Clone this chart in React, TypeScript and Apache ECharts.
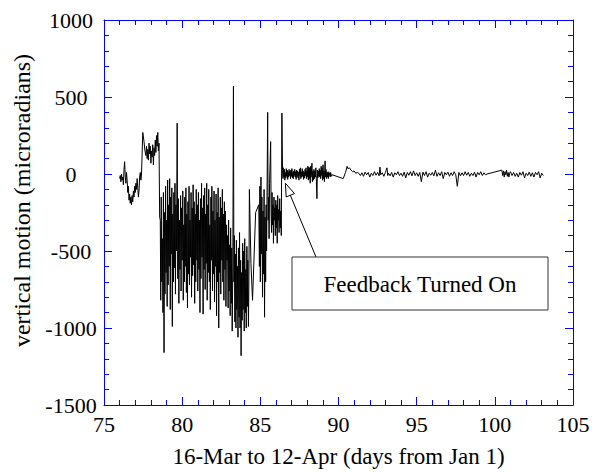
import React, { useEffect, useRef } from "react";
import * as echarts from "echarts";

// [day of year, vertical motion (microradians)]
const phaseA: number[][] = [
  [76.0, -30], [76.04, -10], [76.08, -50], [76.12, 0], [76.16, -40], [76.2, -20], [76.24, -70], [76.28, 30],
  [76.32, 80], [76.36, -20], [76.4, -60], [76.44, 10], [76.48, -40], [76.52, -120], [76.56, -80], [76.6, -170],
  [76.64, -130], [76.68, -190], [76.72, -150], [76.76, -200], [76.8, -140], [76.84, -180], [76.88, -110],
  [76.92, -150], [76.96, -80], [77.0, -120], [77.04, -60], [77.08, -100], [77.12, -30], [77.16, -90],
  [77.2, -150], [77.24, -110], [77.28, -20], [77.32, 10], [77.36, -40], [77.4, 0],
  [77.48, 270], [77.56, 210], [77.62, 150], [77.68, 120], [77.72, 180], [77.76, 100], [77.8, 160], [77.84, 90],
  [77.88, 200], [77.92, 130], [77.96, 180], [78.0, 70], [78.04, 150], [78.08, 110], [78.12, 190], [78.16, 60],
  [78.2, 170], [78.24, 120], [78.28, 220], [78.32, 140], [78.36, 250], [78.4, 180], [78.44, 270], [78.48, 150],
  [78.52, 200], [78.56, -280],
];

const phaseB: number[][] = [
  [78.6, -300], [78.63, -820], [78.66, -150], [78.7, -700], [78.73, -420], [78.77, -900], [78.8, -120],
  [78.84, -1160], [78.87, -250], [78.9, -780], [78.94, -80], [78.97, -640], [79.0, -300], [79.04, -860],
  [79.07, -40], [79.1, -720], [79.14, -200], [79.17, -600], [79.2, -30], [79.24, -880], [79.27, -150],
  [79.3, -520], [79.34, -90], [79.37, -990], [79.4, -260], [79.44, -700], [79.47, -120], [79.5, -610],
  [79.54, -60], [79.57, -780], [79.6, -200], [79.64, -500], [79.68, 330], [79.72, -680], [79.75, -160],
  [79.79, -840], [79.82, -300], [79.86, -620], [79.9, -140], [79.93, -760], [79.96, -220], [80.0, -560],
  [80.04, -110], [80.07, -820], [80.1, -330], [80.14, -700], [80.17, -150], [80.2, -600], [80.24, -90],
  [80.27, -770], [80.3, -260], [80.34, -870], [80.37, -180], [80.4, -650], [80.44, -80], [80.47, -720],
  [80.5, -300], [80.54, -540], [80.57, -120], [80.6, -800], [80.64, -220], [80.67, -660], [80.7, -70],
  [80.74, -590], [80.77, -180], [80.8, -840], [80.84, -260], [80.87, -700], [80.9, -100], [80.94, -560],
  [80.97, -200], [81.0, -760], [81.04, -120], [81.07, -620], [81.1, -300], [81.14, -900], [81.17, -160],
  [81.2, -680], [81.24, -60], [81.27, -540], [81.3, -220], [81.34, -910], [81.37, -140], [81.4, -620],
  [81.44, -90], [81.47, -750], [81.5, -260], [81.54, -580], [81.57, -60], [81.6, -820], [81.64, -200],
  [81.67, -640], [81.7, -100], [81.74, -700], [81.77, -330], [81.8, -880], [81.84, -150], [81.87, -560],
  [81.9, -80], [81.94, -760], [81.97, -240], [82.0, -650], [82.04, -110], [82.07, -830], [82.1, -300],
  [82.14, -600], [82.17, -130], [82.2, -920], [82.24, -250], [82.27, -700], [82.3, -90], [82.34, -1000],
  [82.37, -280], [82.4, -640], [82.44, -150], [82.47, -780], [82.5, -220], [82.54, -560], [82.57, -100],
  [82.6, -700], [82.64, -260], [82.67, -820], [82.7, -180], [82.74, -620], [82.77, -240], [82.8, -860],
  [82.84, -330], [82.87, -560], [82.9, -400], [82.94, -870], [82.97, -300], [83.0, -760], [83.04, -460],
  [83.07, -920], [83.1, -350], [83.14, -840], [83.17, -480], [83.2, -1020], [83.24, -600], [83.28, 570],
  [83.31, -700], [83.34, -400], [83.37, -960], [83.4, -520], [83.44, -1000], [83.47, -430], [83.5, -880],
  [83.54, -600], [83.57, -1060], [83.6, -480], [83.64, -930], [83.67, -380], [83.7, -1000], [83.74, -560],
  [83.77, -1180], [83.8, -640], [83.84, -950], [83.87, -450], [83.9, -880], [83.94, -500], [83.97, -1020],
  [84.0, -420], [84.04, -900], [84.07, -620], [84.1, -1000], [84.14, -470], [84.17, -860], [84.2, -560],
  [84.24, -990], [84.27, -700], [84.3, -100], [84.4, -580], [84.5, -820], [84.7, -250], [84.9, -200],
  [84.94, -600], [84.97, -80], [85.0, -700], [85.04, -20], [85.07, -520], [85.1, -150], [85.14, -800],
  [85.17, -240], [85.2, -650], [85.24, -100], [85.27, -930], [85.3, -280], [85.34, -700], [85.37, -200],
  [85.4, -500], [85.47, 400], [85.5, -300], [85.53, -150], [85.56, -420], [85.59, -60], [85.66, 210],
  [85.69, -260], [85.72, -380], [85.75, -120], [85.78, -330], [85.81, -200], [85.84, -450], [85.87, -150],
  [85.9, -300], [85.93, -220], [85.96, -400], [85.99, -170], [86.02, -350], [86.05, -200], [86.08, -450],
  [86.11, -140], [86.14, -300], [86.17, -230], [86.2, -380], [86.24, -160], [86.27, -350], [86.3, -240],
  [86.34, -400], [86.38, 396],
];

const phaseC: number[][] = [
  [86.42, 20], [86.45, -30], [86.48, 40], [86.51, -20], [86.54, 30], [86.57, -40], [86.6, 10], [86.63, -25],
  [86.66, 35], [86.69, -15], [86.72, 25], [86.75, -35], [86.78, 15], [86.81, -20], [86.84, 30], [86.87, -10],
  [86.9, 20], [86.93, -30], [86.96, 25], [86.99, -15], [87.02, 35], [87.05, -25], [87.08, 10], [87.11, -30],
  [87.14, 20], [87.17, -10], [87.2, 30], [87.23, -20], [87.26, 15], [87.29, -35], [87.32, 25], [87.35, -15],
  [87.38, 20], [87.41, -25], [87.44, 10], [87.47, -40], [87.5, 30], [87.53, -10], [87.56, 40], [87.59, -30],
  [87.62, 15], [87.65, -20], [87.68, 35], [87.71, -15], [87.74, 20], [87.77, -35], [87.8, 10], [87.83, -25],
  [87.86, 30], [87.89, -10], [87.92, 40], [87.95, -30], [87.98, 20], [88.01, -20], [88.04, 50], [88.07, -40],
  [88.1, 45], [88.13, -30], [88.16, 40], [88.19, -60], [88.22, 50], [88.25, -20], [88.3, 70], [88.33, -50],
  [88.36, 20], [88.4, -40], [88.43, 30], [88.46, -30], [88.49, 20], [88.52, -20], [88.55, 40], [88.58, -30],
  [88.62, -160], [88.65, 25], [88.68, -25], [88.71, 20], [88.74, -15], [88.77, 35], [88.8, -20], [88.83, 25],
  [88.86, -30], [88.89, 50], [88.92, -10], [88.95, 40], [88.98, -40], [89.01, 60], [89.04, -30], [89.07, 20],
  [89.1, -50], [89.14, 85], [89.17, -20], [89.2, 30], [89.23, -30], [89.26, 15], [89.29, -20], [89.32, 10],
  [89.35, -30], [89.38, 15], [89.41, -10], [89.44, 5], [89.47, -20], [89.5, 10], [89.55, -15], [89.6, -5],
  [90.3, -30], [90.45, 10], [90.55, 50], [90.6, 35], [90.7, 40], [90.8, 25], [90.9, 15], [91.0, 20], [91.1, 5],
  [91.2, 10],
];

const phaseD: number[][] = [
  [91.3, 5], [91.4, -10], [91.5, 8], [91.6, -15], [91.7, 12], [91.8, -5], [91.9, 10], [92.0, -20], [92.1, 5],
  [92.2, -10], [92.3, 15], [92.4, -8], [92.5, 10], [92.6, -12], [92.65, 45], [92.7, -5], [92.8, 8],
  [92.9, -15], [93.0, 10], [93.1, 40], [93.15, -10], [93.2, 5], [93.3, -12], [93.4, 10], [93.5, -20],
  [93.6, 8], [93.7, -5], [93.8, 15], [93.9, -10], [94.0, 5], [94.1, -15], [94.2, 12], [94.3, -25], [94.4, 10],
  [94.5, -8], [94.6, 15], [94.7, -12], [94.8, 20], [94.9, -10], [95.0, 8], [95.1, -15], [95.2, 10],
  [95.3, -50], [95.4, 12], [95.5, -10], [95.6, 15], [95.7, -20], [95.8, 5], [95.9, -8], [96.0, 10],
  [96.1, -12], [96.2, 25], [96.3, -15], [96.4, 8], [96.5, -10], [96.6, 15], [96.7, -30], [96.8, 10],
  [96.9, -5], [97.0, 12], [97.1, -15], [97.2, 8], [97.3, -10], [97.4, 15], [97.5, -5], [97.6, -80],
  [97.7, 10], [97.8, -12], [97.9, 8], [98.0, -10], [98.1, 15], [98.2, -8], [98.3, 10], [98.4, -15],
  [98.5, 5], [98.6, -10], [98.7, 12], [98.8, -20], [98.9, 10], [99.0, -5], [99.1, 15], [99.2, -10],
  [99.3, 8], [99.4, -5], [99.5, 0],
];

const phaseE: number[][] = [
  [100.45, 25], [100.5, -10], [100.55, 20], [100.6, -20], [100.65, 15], [100.7, -5], [100.75, 25],
  [100.8, -15], [100.85, 10], [100.9, -20], [100.95, 5], [101.0, 15], [101.1, -10], [101.2, 10],
  [101.3, -15], [101.4, 5], [101.5, -20], [101.6, 10], [101.7, -8], [101.8, 15], [101.9, -25], [102.0, 5],
  [102.1, -10], [102.2, 12], [102.3, -15], [102.4, 8], [102.5, -20], [102.6, 10], [102.7, -5], [102.8, 15],
  [102.9, -25], [103.0, 5], [103.1, -10],
];

const annotationText = "Feedback Turned On";
const arrowTip = [86.6, -60];
const xTitle = "16-Mar to 12-Apr (days from Jan 1)";
const yTitle = "vertical motion (microradians)";

const FONT = "'Liberation Serif', 'Times New Roman', serif";
const AXIS_BLUE = "#0000ff";

export default function App() {
  const ref = useRef<HTMLDivElement>(null);
  useEffect(() => {
    if (!ref.current) return;
    const chart = echarts.init(ref.current, undefined, { renderer: "svg" });
    const data = [...phaseA, ...phaseB, ...phaseC, ...phaseD, ...phaseE];
    const tickCommon = {
      axisLine: { show: true, onZero: false, lineStyle: { color: AXIS_BLUE, width: 1 } },
      axisTick: { show: true, inside: true, length: 8, lineStyle: { color: AXIS_BLUE } },
      minorTick: { show: true, splitNumber: 5, length: 5, lineStyle: { color: AXIS_BLUE } },
      splitLine: { show: false },
      minorSplitLine: { show: false },
    };
    const plain = (v: number) => String(v);
    const xBase = { type: "value", min: 75, max: 105, interval: 5, ...tickCommon };
    const yBase = { type: "value", min: -1500, max: 1000, interval: 500, ...tickCommon };
    chart.setOption({
      animation: false,
      backgroundColor: "#ffffff",
      grid: {
        left: 104,
        top: 20,
        right: 19,
        bottom: 67,
        containLabel: false,
        outerBoundsMode: "none",
      },
      xAxis: [
        {
          ...xBase,
          position: "bottom",
          axisLabel: { color: "#000", fontFamily: FONT, fontSize: 22, margin: 8, formatter: plain },
          name: xTitle,
          nameLocation: "middle",
          nameGap: 40,
          nameTextStyle: { color: "#000", fontFamily: FONT, fontSize: 23 },
        },
        { ...xBase, position: "top", axisLabel: { show: false } },
      ],
      yAxis: [
        {
          ...yBase,
          position: "left",
          axisLabel: {
            color: "#000",
            fontFamily: FONT,
            fontSize: 22,
            margin: 33,
            align: "center",
            formatter: plain,
          },
          name: yTitle,
          nameLocation: "middle",
          nameGap: 57,
          nameRotate: 90,
          nameTextStyle: {
            color: "#000",
            fontFamily: FONT,
            fontSize: 24,
            padding: [0, 0, 0, 24],
          },
        },
        { ...yBase, position: "right", axisLabel: { show: false } },
      ],
      series: [
        {
          type: "line",
          data,
          showSymbol: false,
          symbol: "none",
          lineStyle: { color: "#000", width: 1 },
          xAxisIndex: 0,
          yAxisIndex: 0,
        },
      ],
    });
    const tip = chart.convertToPixel({ gridIndex: 0 }, arrowTip) as number[];
    const tail = [316, 257];
    const dx = tail[0] - tip[0];
    const dy = tail[1] - tip[1];
    const len = Math.sqrt(dx * dx + dy * dy);
    const ux = dx / len;
    const uy = dy / len;
    const bx = tip[0] + ux * 13;
    const by = tip[1] + uy * 13;
    const nx = -uy;
    const ny = ux;
    chart.setOption({
      graphic: [
        {
          type: "line",
          shape: { x1: tail[0], y1: tail[1], x2: bx, y2: by },
          style: { stroke: "#000", lineWidth: 1 },
        },
        {
          type: "polygon",
          shape: {
            points: [
              [tip[0], tip[1]],
              [bx + nx * 4.5, by + ny * 4.5],
              [bx - nx * 4.5, by - ny * 4.5],
            ],
          },
          style: { stroke: "#000", fill: "#fff", lineWidth: 1 },
        },
        {
          type: "rect",
          shape: { x: 292, y: 257, width: 256, height: 53 },
          style: { stroke: "#333", fill: "#fff", lineWidth: 1 },
        },
        {
          type: "text",
          x: 420,
          y: 284,
          style: {
            text: annotationText,
            fill: "#000",
            font: `23px ${FONT}`,
            align: "center",
            verticalAlign: "middle",
          },
        },
      ],
    });
    return () => chart.dispose();
  }, []);
  return (
    <div
      ref={ref}
      style={{ position: "fixed", left: 0, top: 0, width: 592, height: 472, background: "#fff" }}
    />
  );
}
